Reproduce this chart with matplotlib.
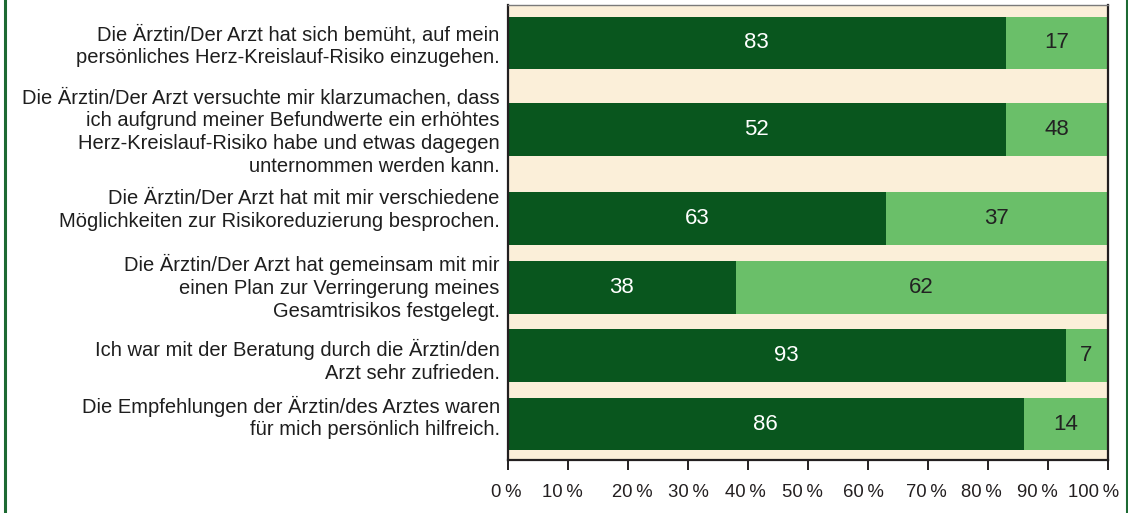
import matplotlib
matplotlib.use("Agg")
import matplotlib.pyplot as plt
import matplotlib.transforms as mtransforms
from matplotlib.lines import Line2D

plt.rcParams["font.family"] = ["Liberation Sans", "DejaVu Sans"]

# ---------------- data ----------------
categories = [
    "Die Ärztin/Der Arzt hat sich bemüht, auf mein\npersönliches Herz-Kreislauf-Risiko einzugehen.",
    "Die Ärztin/Der Arzt versuchte mir klarzumachen, dass\nich aufgrund meiner Befundwerte ein erhöhtes\nHerz-Kreislauf-Risiko habe und etwas dagegen\nunternommen werden kann.",
    "Die Ärztin/Der Arzt hat mit mir verschiedene\nMöglichkeiten zur Risikoreduzierung besprochen.",
    "Die Ärztin/Der Arzt hat gemeinsam mit mir\neinen Plan zur Verringerung meines\nGesamtrisikos festgelegt.",
    "Ich war mit der Beratung durch die Ärztin/den\nArzt sehr zufrieden.",
    "Die Empfehlungen der Ärztin/des Arztes waren\nfür mich persönlich hilfreich.",
]
# segment lengths as drawn in the picture
dark_share = [83, 83, 63, 38, 93, 86]
light_share = [17, 17, 37, 62, 7, 14]
# numbers printed on the segments
dark_labels = ["83", "52", "63", "38", "93", "86"]
light_labels = ["17", "48", "37", "62", "7", "14"]
x_ticks = [0, 10, 20, 30, 40, 50, 60, 70, 80, 90, 100]
x_tick_labels = [f"{t}\u2009%" for t in x_ticks]

# ---------------- layout ----------------
W, H = 1128, 513
row_pos = [38, 124.7, 213.5, 282.7, 350.3, 419]      # bar centres (px from plot top)
label_pos = [41, 127, 205, 282.5, 355.7, 412.5]      # label block centres
bar_h = 52.5
tick_label_dx = [-2, -6, 4, 1, -2, -5, -4, -1, -6, -10, -14]   # px shifts

dark = "#09561e"
light = "#6abf69"
beige = "#fbefd9"
ink = "#231f20"

fig = plt.figure(figsize=(W / 100, H / 100), dpi=100)
fig.patch.set_facecolor("white")
ax = fig.add_axes([508 / W, 1 - 460 / H, (1107.5 - 508) / W, 455 / H])
ax.set_facecolor(beige)

b1 = ax.barh(row_pos, dark_share, height=bar_h, color=dark, linewidth=0)
b2 = ax.barh(row_pos, light_share, left=dark_share, height=bar_h, color=light, linewidth=0)
ax.bar_label(b1, labels=dark_labels, label_type="center", color="white", fontsize=16)
ax.bar_label(b2, labels=light_labels, label_type="center", color="#222222", fontsize=16)

ax.set_xlim(0, 100)
ax.set_ylim(455, 0)
ax.set_yticks([])
ax.set_xticks(x_ticks)
ax.set_xticklabels(x_tick_labels)
ax.tick_params(axis="x", direction="out", length=7.5, width=1.4, pad=9.5,
               labelsize=13.3, colors=ink)
for lbl, dx in zip(ax.get_xticklabels(), tick_label_dx):
    lbl.set_transform(lbl.get_transform() +
                      mtransforms.ScaledTranslation(dx / 100, 0, fig.dpi_scale_trans))

for s in ["left", "right", "bottom"]:
    ax.spines[s].set_color(ink)
    ax.spines[s].set_linewidth(1.6)
ax.spines["top"].set_color("#7a7a7a")
ax.spines["top"].set_linewidth(1.0)

trans = mtransforms.blended_transform_factory(ax.transAxes, ax.transData)
for text, y in zip(categories, label_pos):
    ax.annotate(text, xy=(0, y), xycoords=trans, xytext=(-6, 0),
                textcoords="offset points", ha="right", va="center",
                multialignment="right", fontsize=14.5, linespacing=1.25,
                color="#1e1e1e", annotation_clip=False)

# green frame lines on the left and right edges
for xp in (5 / W, 1126.5 / W):
    fig.add_artist(Line2D([xp, xp], [0, 1], transform=fig.transFigure,
                          color="#1d6a33", linewidth=2.2))

fig.savefig("out.png", dpi=100)
